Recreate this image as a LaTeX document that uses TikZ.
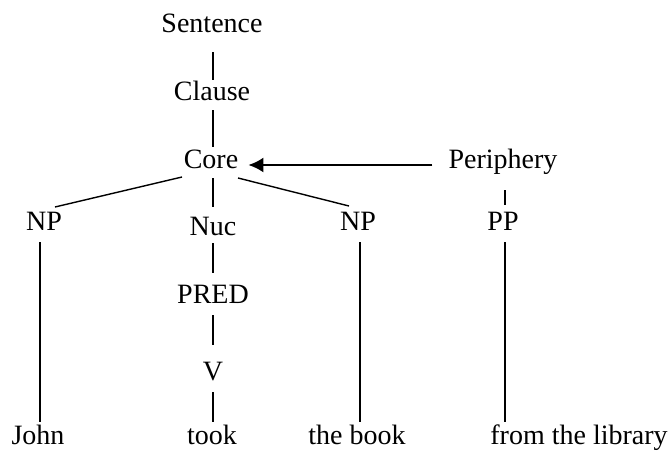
\documentclass[tikz,border=0pt]{standalone}
\usepackage{fontspec}
\setmainfont{Liberation Serif}
\usetikzlibrary{calc,arrows.meta}
\begin{document}
\begin{tikzpicture}[x=1pt,y=-1pt,
  lbl/.style={anchor=base,inner sep=0pt,font=\fontsize{28}{30}\selectfont},
  edge/.style={line width=1.4pt},
  arr/.style={line width=2pt,-{Latex[length=15pt,width=15pt]}}]
\useasboundingbox (0,0) rectangle (672,450);
\node[lbl] (sent) at (212,32) {Sentence};
\node[lbl] (clause) at (212,100) {Clause};
\node[lbl] (core) at (211,168) {Core};
\node[lbl] (periph) at (503,168) {Periphery};
\node[lbl] (npl) at (44,230) {NP};
\node[lbl] (nuc) at (213,235) {Nuc};
\node[lbl] (npr) at (358,230) {NP};
\node[lbl] (pp) at (503,230) {PP};
\node[lbl] (pred) at (213,303) {PRED};
\node[lbl] (v) at (213,380) {V};
\node[lbl] (john) at (38,444) {John};
\node[lbl] (took) at (212,444) {took};
\node[lbl] (book) at (357,444) {the book};
\node[lbl] (lib) at (579,444) {from the library};
\draw[edge] ($(sent.base)+(1,20)$) -- ($(clause.base)+(1,-20)$);
\draw[edge] ($(clause.base)+(1,10)$) -- ($(core.base)+(2,-21)$);
\draw[edge] ($(core.base)+(2,10)$) -- ($(nuc.base)+(0,-28)$);
\draw[edge] ($(core.base)+(-29,9)$) -- ($(npl.base)+(11,-23)$);
\draw[edge] ($(core.base)+(27,10)$) -- ($(npr.base)+(-9,-24)$);
\draw[edge] ($(npl.base)+(-4,12)$) -- ($(john.base)+(2,-22)$);
\draw[edge] ($(nuc.base)+(0,8)$) -- ($(pred.base)+(0,-30)$);
\draw[edge] ($(pred.base)+(0,12)$) -- ($(v.base)+(0,-35)$);
\draw[edge] ($(v.base)+(0,12)$) -- ($(took.base)+(1,-22)$);
\draw[edge] ($(npr.base)+(2,12)$) -- ($(book.base)+(3,-22)$);
\draw[edge] ($(periph.base)+(2,22)$) -- ($(pp.base)+(2,-25)$);
\draw[edge] ($(pp.base)+(2,12)$) -- ($(lib.base)+(-74,-22)$);
\draw[arr] ($(periph.base west)+(-16,-3)$) -- ($(core.base east)+(10,-3)$);
\end{tikzpicture}
\end{document}
